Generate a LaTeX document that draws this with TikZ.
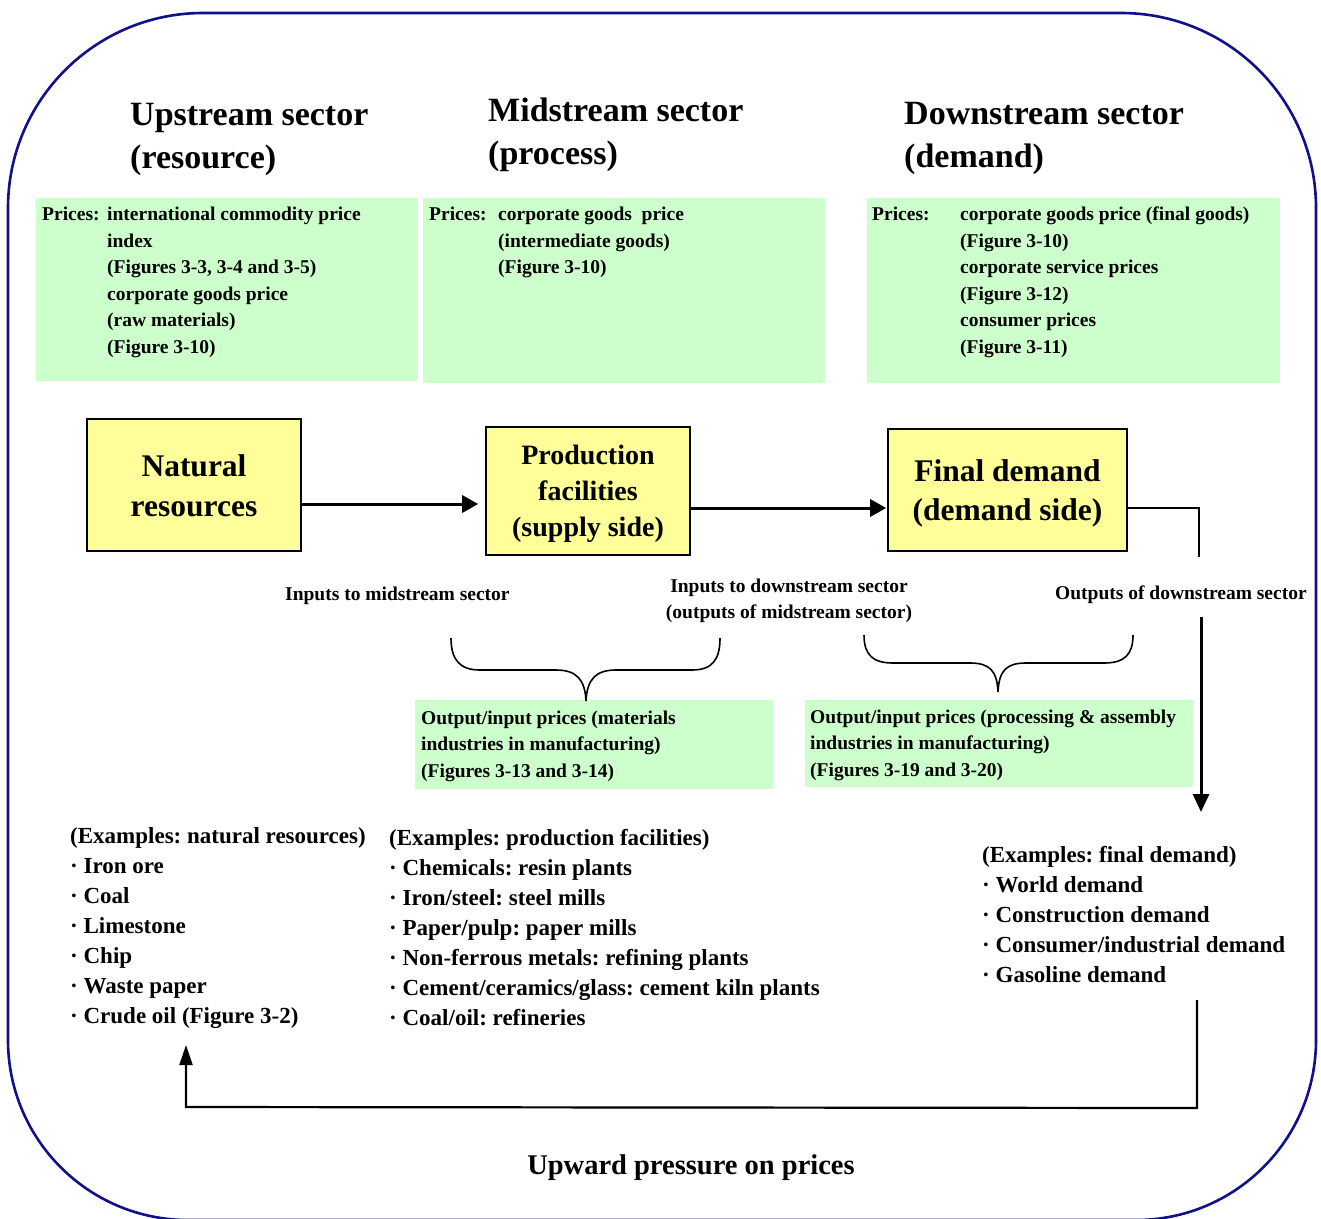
\documentclass[tikz,border=0pt]{standalone}
\usepackage{fontspec}
\setmainfont{Liberation Serif}
\usetikzlibrary{arrows.meta}
\definecolor{priceGreen}{HTML}{CCFFCC}
\definecolor{boxYellow}{HTML}{FFFF99}
\definecolor{frameNavy}{RGB}{16,16,140}
\frenchspacing
\begin{document}
\begin{tikzpicture}[x=1pt,y=-1pt,
  % multi-line nodes are anchored at the baseline of their last line
  small/.style={inner sep=0pt, anchor=base west, align=left, font=\fontsize{19.5}{26.5}\selectfont\bfseries},
  head/.style={inner sep=0pt, anchor=base west, align=left, font=\fontsize{34}{43.5}\selectfont\bfseries},
  listtext/.style={inner sep=0pt, anchor=base west, align=left, font=\fontsize{23}{30}\selectfont\bfseries},
  pricebox/.style={fill=priceGreen, draw=none, inner sep=0pt, anchor=north west},
  sectorbox/.style={draw=black, line width=1.6pt, fill=boxYellow, inner sep=0pt, align=center},
  boxtext/.style={inner sep=0pt, align=center},
  flow/.style={line width=3pt, -{Triangle[length=16pt,width=17pt]}},
  thinline/.style={line width=1.6pt},
  brace/.style={line width=1.6pt},
  frame/.style={draw=frameNavy, line width=2.6pt}
]
\useasboundingbox (0,0) rectangle (1321,1218);
\fill[white] (0,0) rectangle (1321,1218);

% outer rounded frame
\draw[frame] (8,1040) -- (8,208) arc[start angle=180, end angle=270, radius=195]
  -- (1121,13) arc[start angle=270, end angle=360, radius=195]
  -- (1316,1040) arc[start angle=0, end angle=90, radius=180]
  -- (188,1220) arc[start angle=90, end angle=180, radius=180] -- cycle;

% sector headings
\node[head] (hup) at (130,168.5) {Upstream sector\\(resource)};
\node[head] (hmid) at (488,164.5) {Midstream sector\\(process)};
\node[head] (hdown) at (904,167.5) {Downstream sector\\(demand)};

% price panels
\node[pricebox, minimum width=382pt, minimum height=183pt] (pup) at (36,198) {};
\node[pricebox, minimum width=402pt, minimum height=185pt] (pmid) at (423,198) {};
\node[pricebox, minimum width=413pt, minimum height=185pt] (pdown) at (867,198) {};
\node[pricebox, minimum width=358pt, minimum height=89pt] (pmat) at (415,700) {};
\node[pricebox, minimum width=388pt, minimum height=87pt] (pasm) at (805,700) {};

\node[small] (pupL) at (42,220.5) {Prices:};
\node[small] (pupT) at (107,353) {international commodity price\\index\\(Figures 3-3, 3-4 and 3-5)\\corporate goods price\\(raw materials)\\(Figure 3-10)};
\node[small] (pmidL) at (429,220.5) {Prices:};
\node[small] (pmidT) at (498,273.5) {corporate goods\ \ price\\(intermediate goods)\\(Figure 3-10)};
\node[small] (pdownL) at (872,220.5) {Prices:};
\node[small] (pdownT) at (960,353) {corporate goods price (final goods)\\(Figure 3-10)\\corporate service prices\\(Figure 3-12)\\consumer prices\\(Figure 3-11)};

\node[small] (matT) at (421,777) {Output/input prices (materials\\industries in manufacturing)\\(Figures 3-13 and 3-14)};
\node[small] (asmT) at (810,776) {Output/input prices (processing \& assembly\\industries in manufacturing)\\(Figures 3-19 and 3-20)};

% chain of sectors
\node[sectorbox, minimum width=214pt, minimum height=132pt] (nat) at (194,485) {};
\node[boxtext, font=\fontsize{31.5}{40}\selectfont\bfseries] (nattxt) at ([yshift=-1pt]nat.center) {Natural\\resources};
\node[sectorbox, minimum width=204pt, minimum height=128pt] (prod) at (588,491) {};
\node[boxtext, font=\fontsize{28}{36}\selectfont\bfseries] (prodtxt) at ([yshift=-3pt]prod.center) {Production\\facilities\\(supply side)};
\node[sectorbox, minimum width=239pt, minimum height=122pt] (fin) at (1007.5,490) {};
\node[boxtext, font=\fontsize{31.5}{39}\selectfont\bfseries] (fintxt) at ([yshift=-3pt]fin.center) {Final demand\\(demand side)};

\draw[flow, shorten >=7pt] (nat.east |- 0,504) -- (prod.west |- 0,504);
\draw[flow, shorten >=1pt] (prod.east |- 0,508) -- (fin.west |- 0,508);

% flow labels
\node[small] (inmid) at (285,600) {Inputs to midstream sector};
\node[small, align=center, anchor=base] (indown) at (789,618.5) {Inputs to downstream sector\\(outputs of midstream sector)};
\node[small] (outdown) at (1055,599) {Outputs of downstream sector};

% braces
\draw[brace] (451,638) .. controls (451,660) and (460,670) .. (480,670) -- (556,670)
  .. controls (576,670) and (585,679) .. (586,701)
  .. controls (587,679) and (596,670) .. (616,670) -- (692,670)
  .. controls (712,670) and (720,660) .. (720,638);
\draw[brace] (864,635) .. controls (864,655) and (873,663) .. (893,663) -- (970,663)
  .. controls (990,663) and (997,671) .. (998,692)
  .. controls (999,671) and (1006,663) .. (1026,663) -- (1104,663)
  .. controls (1124,663) and (1133,655) .. (1133,635);

% examples
\node[listtext] (exnat) at (70,1023) {(Examples: natural resources)\\· Iron ore\\· Coal\\· Limestone\\· Chip\\· Waste paper\\· Crude oil (Figure 3-2)};
\node[listtext] (exprod) at (389,1025) {(Examples: production facilities)\\· Chemicals: resin plants\\· Iron/steel: steel mills\\· Paper/pulp: paper mills\\· Non-ferrous metals: refining plants\\· Cement/ceramics/glass: cement kiln plants\\· Coal/oil: refineries};
\node[listtext] (exfin) at (982,982) {(Examples: final demand)\\· World demand\\· Construction demand\\· Consumer/industrial demand\\· Gasoline demand};

% outputs of the downstream sector
\coordinate (outbend) at (1199,508);
\coordinate (outend) at (1199,557);
\draw[thinline] (fin.east |- outbend) -- (outbend) -- (outend);
\coordinate (downtop) at (1201,617);
\coordinate (downtip) at (1201,812);
\draw[line width=3pt, -{Triangle[length=18pt,width=16pt]}] (downtop) -- (downtip);

% feedback loop
\coordinate (fbstart) at (1197,1000);
\coordinate (fbcorner) at (1197,1108);
\coordinate (fbleft) at (186,1107);
\coordinate (fbtip) at (186,1045);
\draw[line width=2.2pt, -{Triangle[length=20pt,width=13pt]}] (fbstart) -- (fbcorner) -- (fbleft) -- (fbtip);

\node[inner sep=0pt, anchor=base, font=\fontsize{28.5}{30}\selectfont\bfseries] (upward) at (691,1174) {Upward pressure on prices};
\end{tikzpicture}
\end{document}
